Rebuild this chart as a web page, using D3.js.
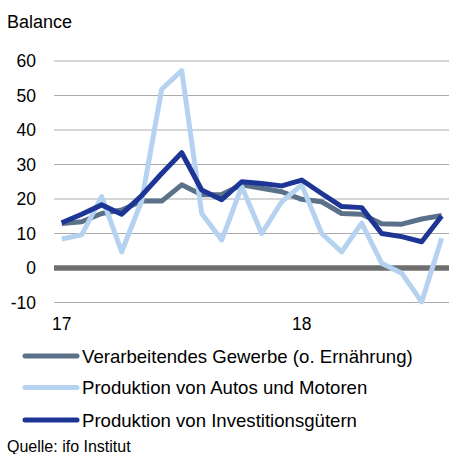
<!DOCTYPE html>
<html>
<head>
<meta charset="utf-8">
<script src="https://cdn.jsdelivr.net/npm/d3@7"></script>
<style>
  html, body { margin: 0; padding: 0; background: #fff; }
  svg { display: block; font-family: "Liberation Sans", Arial, sans-serif; }
</style>
</head>
<body>
<svg id="chart" width="449" height="454"></svg>
<script>
// Monthly data, Jan 2017 .. Aug 2018
const months = ["2017-01","2017-02","2017-03","2017-04","2017-05","2017-06","2017-07","2017-08","2017-09","2017-10","2017-11","2017-12",
                "2018-01","2018-02","2018-03","2018-04","2018-05","2018-06","2018-07","2018-08"];
const verarbeitendes = [12.9, 13.4, 15.8, 16.8, 19.4, 19.4, 24.1, 21.2, 21.3, 24.1, 23.1, 22.1, 19.9, 19.2, 15.8, 15.6, 12.8, 12.7, 14.2, 15.2];
const autos          = [8.4, 9.6, 20.7, 4.7, 19.5, 51.8, 57.2, 15.8, 8.1, 23.6, 10.0, 19.2, 24.1, 10.0, 4.7, 13.0, 1.4, -1.5, -9.8, 8.6];
const investition    = [13.1, 15.6, 18.3, 15.6, 21.0, 27.4, 33.4, 22.6, 19.8, 25.0, 24.5, 23.8, 25.5, 21.6, 17.8, 17.5, 10.0, 9.1, 7.6, 15.1];
const yTicks = [-10, 0, 10, 20, 30, 40, 50, 60];
const xTickLabels = [{idx: 0, label: "17"}, {idx: 12, label: "18"}];
const seriesNames = ["Verarbeitendes Gewerbe (o. Ernährung)", "Produktion von Autos und Motoren", "Produktion von Investitionsgütern"];
const seriesColors = ["#5b7189", "#b5d3f0", "#1d3594"];

const svg = d3.select("#chart");
const x = d3.scaleLinear().domain([0, months.length - 1]).range([61.7, 441.7]);
const y = d3.scaleLinear().domain([-10, 60]).range([302.5, 61]);
const gridX0 = 54, gridX1 = 449;

// Title
svg.append("text").attr("x", 7).attr("y", 28).attr("font-size", 18).attr("fill", "#000").text("Balance");

// Gridlines
svg.append("g").selectAll("line").data(yTicks.filter(d => d !== 0)).join("line")
  .attr("x1", gridX0).attr("x2", gridX1)
  .attr("y1", d => y(d)).attr("y2", d => y(d))
  .attr("stroke", "#ababab").attr("stroke-width", 1.2);

// Y tick labels
svg.append("g").selectAll("text").data(yTicks).join("text")
  .attr("x", 36).attr("y", d => y(d) + 6.3)
  .attr("text-anchor", "end").attr("font-size", 17.5).attr("fill", "#000")
  .text(d => d);

// Zero line
svg.append("line").attr("x1", gridX0).attr("x2", gridX1)
  .attr("y1", y(0)).attr("y2", y(0))
  .attr("stroke", "#6f6f6f").attr("stroke-width", 5.7);

// X labels
svg.append("g").selectAll("text").data(xTickLabels).join("text")
  .attr("x", d => x(d.idx)).attr("y", 330)
  .attr("text-anchor", "middle").attr("font-size", 17.5).attr("fill", "#000")
  .text(d => d.label);

// Lines
const line = d3.line().x((d, i) => x(i)).y(d => y(d));
const allSeries = [verarbeitendes, autos, investition];
allSeries.forEach((s, k) => {
  svg.append("path").datum(s)
    .attr("d", line)
    .attr("fill", "none")
    .attr("stroke", seriesColors[k])
    .attr("stroke-width", 5)
    .attr("stroke-linejoin", "round")
    .attr("stroke-linecap", "butt");
});

// Legend
const legendY = [356, 387.5, 420];
seriesNames.forEach((name, k) => {
  svg.append("line").attr("x1", 25).attr("x2", 77)
    .attr("y1", legendY[k]).attr("y2", legendY[k])
    .attr("stroke", seriesColors[k]).attr("stroke-width", 5).attr("stroke-linecap", "round");
  svg.append("text").attr("x", 82).attr("y", legendY[k] + 6.5)
    .attr("font-size", 18.6).attr("fill", "#000").text(name);
});

// Source
svg.append("text").attr("x", 7).attr("y", 452).attr("font-size", 16).attr("fill", "#000").text("Quelle: ifo Institut");
</script>
</body>
</html>
